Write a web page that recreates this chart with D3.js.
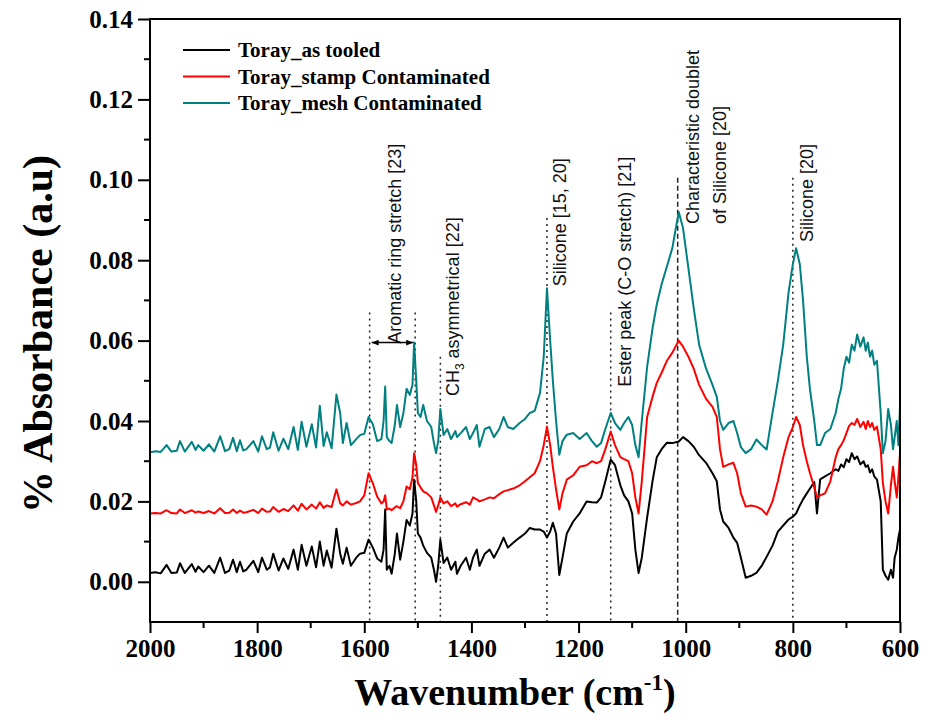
<!DOCTYPE html>
<html>
<head>
<meta charset="utf-8">
<script src="https://cdn.jsdelivr.net/npm/d3@7"></script>
<style>
  html, body { margin: 0; padding: 0; background: #fff; }
  svg { display: block; }
</style>
</head>
<body>
<svg id="chart" width="928" height="723"></svg>
<script>
// FTIR absorbance spectra of Toray samples (wavenumber in cm-1)
const wavenumbers = [
  2000, 1990, 1980, 1969, 1960, 1950, 1944, 1935, 1922, 1915, 1910, 1900, 1890, 1880, 1869, 1860,
  1852, 1845, 1838, 1832, 1826, 1820, 1807, 1798, 1791, 1782, 1776, 1770, 1760, 1751, 1742, 1732,
  1724, 1717, 1708, 1698, 1690, 1683, 1676, 1670, 1661, 1652, 1645, 1640, 1633, 1625, 1615, 1608,
  1600, 1592, 1584, 1576, 1568, 1564, 1561, 1558, 1553, 1549, 1543, 1539, 1533, 1527, 1521, 1515,
  1510, 1507, 1503, 1500, 1495, 1490, 1483, 1475, 1470, 1466, 1462, 1458, 1452, 1445, 1438, 1430,
  1427, 1420, 1410, 1403, 1397, 1390, 1385, 1375, 1366, 1358, 1348, 1340, 1332, 1322, 1310, 1300,
  1291, 1282, 1272, 1265, 1259, 1253, 1248, 1242, 1236, 1230, 1222, 1210, 1198, 1185, 1175, 1166,
  1158, 1150, 1140, 1132, 1122, 1115, 1107, 1100, 1094, 1088, 1082, 1072, 1062, 1054, 1045, 1035,
  1025, 1013, 1005, 995, 985, 975, 962, 950, 942, 936, 930, 920, 911, 904, 897, 888,
  878, 868, 858, 849, 838, 828, 818, 808, 800, 794, 787, 781, 774, 768, 760, 755,
  749, 740, 730, 720, 715, 710, 705, 700, 695, 690, 685, 680, 674, 668, 664, 660,
  656, 652, 648, 643, 636, 632, 627, 622, 617, 613, 610, 606, 603, 600
];

const asTooled = [
  0.0022, 0.0024, 0.0021, 0.0042, 0.0022, 0.0023, 0.0046, 0.0022, 0.0044, 0.0025, 0.0038, 0.0024, 0.0040, 0.0022, 0.0060, 0.0022,
  0.0028, 0.0055, 0.0024, 0.0050, 0.0026, 0.0030, 0.0052, 0.0024, 0.0060, 0.0030, 0.0036, 0.0070, 0.0028, 0.0058, 0.0032, 0.0080,
  0.0030, 0.0092, 0.0040, 0.0088, 0.0036, 0.0100, 0.0040, 0.0078, 0.0035, 0.0132, 0.0070, 0.0045, 0.0085, 0.0040, 0.0060, 0.0070,
  0.0072, 0.0105, 0.0085, 0.0058, 0.0050, 0.0080, 0.0180, 0.0030, 0.0040, 0.0020, 0.0070, 0.0120, 0.0055, 0.0100, 0.0154, 0.0140,
  0.0170, 0.0254, 0.0200, 0.0120, 0.0110, 0.0090, 0.0072, 0.0060, 0.0030, 0.0000, 0.0040, 0.0105, 0.0047, 0.0060, 0.0030, 0.0050,
  0.0020, 0.0040, 0.0060, 0.0030, 0.0060, 0.0080, 0.0040, 0.0070, 0.0080, 0.0060, 0.0085, 0.0110, 0.0085, 0.0097, 0.0110, 0.0120,
  0.0134, 0.0130, 0.0130, 0.0125, 0.0110, 0.0125, 0.0147, 0.0120, 0.0017, 0.0060, 0.0120, 0.0150, 0.0170, 0.0200, 0.0198, 0.0197,
  0.0210, 0.0250, 0.0304, 0.0290, 0.0240, 0.0215, 0.0200, 0.0170, 0.0080, 0.0022, 0.0060, 0.0160, 0.0250, 0.0310, 0.0330, 0.0346,
  0.0345, 0.0349, 0.0360, 0.0350, 0.0336, 0.0315, 0.0296, 0.0270, 0.0250, 0.0180, 0.0150, 0.0134, 0.0110, 0.0097, 0.0060, 0.0010,
  0.0015, 0.0022, 0.0040, 0.0062, 0.0090, 0.0125, 0.0140, 0.0155, 0.0162, 0.0170, 0.0190, 0.0205, 0.0220, 0.0232, 0.0248, 0.0170,
  0.0255, 0.0262, 0.0270, 0.0280, 0.0276, 0.0292, 0.0285, 0.0305, 0.0298, 0.0320, 0.0305, 0.0312, 0.0292, 0.0300, 0.0286, 0.0290,
  0.0272, 0.0280, 0.0262, 0.0254, 0.0200, 0.0030, 0.0015, 0.0005, 0.0030, 0.0010, 0.0060, 0.0080, 0.0110, 0.0130
];

const stampContaminated = [
  0.0170, 0.0171, 0.0170, 0.0178, 0.0171, 0.0170, 0.0180, 0.0171, 0.0178, 0.0172, 0.0175, 0.0171, 0.0176, 0.0170, 0.0183, 0.0171,
  0.0172, 0.0180, 0.0171, 0.0177, 0.0172, 0.0173, 0.0179, 0.0171, 0.0182, 0.0174, 0.0175, 0.0186, 0.0174, 0.0181, 0.0176, 0.0190,
  0.0177, 0.0194, 0.0180, 0.0192, 0.0182, 0.0198, 0.0184, 0.0190, 0.0186, 0.0230, 0.0195, 0.0190, 0.0200, 0.0192, 0.0196, 0.0200,
  0.0215, 0.0270, 0.0245, 0.0212, 0.0195, 0.0200, 0.0215, 0.0180, 0.0182, 0.0178, 0.0185, 0.0188, 0.0183, 0.0200, 0.0237, 0.0230,
  0.0260, 0.0320, 0.0290, 0.0246, 0.0235, 0.0225, 0.0220, 0.0210, 0.0190, 0.0174, 0.0190, 0.0210, 0.0195, 0.0200, 0.0188, 0.0195,
  0.0187, 0.0193, 0.0198, 0.0192, 0.0210, 0.0205, 0.0200, 0.0205, 0.0210, 0.0208, 0.0218, 0.0225, 0.0228, 0.0232, 0.0240, 0.0250,
  0.0260, 0.0270, 0.0300, 0.0340, 0.0386, 0.0340, 0.0286, 0.0230, 0.0180, 0.0220, 0.0254, 0.0265, 0.0286, 0.0290, 0.0300, 0.0295,
  0.0300, 0.0330, 0.0374, 0.0340, 0.0310, 0.0305, 0.0300, 0.0270, 0.0210, 0.0170, 0.0250, 0.0410, 0.0460, 0.0495, 0.0520, 0.0550,
  0.0570, 0.0600, 0.0585, 0.0560, 0.0530, 0.0490, 0.0455, 0.0435, 0.0410, 0.0330, 0.0286, 0.0292, 0.0296, 0.0270, 0.0220, 0.0187,
  0.0190, 0.0187, 0.0180, 0.0167, 0.0200, 0.0250, 0.0310, 0.0360, 0.0385, 0.0410, 0.0390, 0.0340, 0.0300, 0.0270, 0.0235, 0.0210,
  0.0215, 0.0220, 0.0250, 0.0310, 0.0330, 0.0340, 0.0352, 0.0370, 0.0388, 0.0395, 0.0390, 0.0405, 0.0385, 0.0398, 0.0380, 0.0400,
  0.0385, 0.0395, 0.0378, 0.0386, 0.0330, 0.0246, 0.0200, 0.0170, 0.0240, 0.0286, 0.0250, 0.0210, 0.0260, 0.0320
];

const meshContaminated = [
  0.0322, 0.0325, 0.0323, 0.0340, 0.0324, 0.0326, 0.0350, 0.0324, 0.0348, 0.0328, 0.0340, 0.0326, 0.0342, 0.0324, 0.0362, 0.0325,
  0.0330, 0.0358, 0.0325, 0.0352, 0.0327, 0.0330, 0.0350, 0.0324, 0.0362, 0.0330, 0.0334, 0.0372, 0.0326, 0.0356, 0.0330, 0.0385,
  0.0328, 0.0398, 0.0336, 0.0392, 0.0334, 0.0438, 0.0338, 0.0372, 0.0332, 0.0466, 0.0420, 0.0345, 0.0395, 0.0340, 0.0355, 0.0365,
  0.0368, 0.0410, 0.0392, 0.0350, 0.0355, 0.0400, 0.0486, 0.0360, 0.0350, 0.0345, 0.0390, 0.0440, 0.0385, 0.0420, 0.0480, 0.0465,
  0.0490, 0.0595, 0.0500, 0.0420, 0.0410, 0.0440, 0.0400, 0.0385, 0.0345, 0.0320, 0.0350, 0.0430, 0.0365, 0.0380, 0.0355, 0.0375,
  0.0360, 0.0370, 0.0385, 0.0355, 0.0370, 0.0390, 0.0336, 0.0380, 0.0385, 0.0360, 0.0380, 0.0410, 0.0385, 0.0380, 0.0395, 0.0405,
  0.0420, 0.0425, 0.0470, 0.0560, 0.0730, 0.0600, 0.0500, 0.0400, 0.0316, 0.0350, 0.0366, 0.0370, 0.0355, 0.0370, 0.0350, 0.0336,
  0.0345, 0.0380, 0.0420, 0.0395, 0.0378, 0.0395, 0.0410, 0.0390, 0.0340, 0.0310, 0.0400, 0.0535, 0.0630, 0.0690, 0.0740, 0.0785,
  0.0830, 0.0920, 0.0880, 0.0780, 0.0680, 0.0590, 0.0530, 0.0490, 0.0460, 0.0400, 0.0378, 0.0395, 0.0400, 0.0370, 0.0335, 0.0320,
  0.0330, 0.0354, 0.0340, 0.0329, 0.0420, 0.0500, 0.0590, 0.0720, 0.0790, 0.0830, 0.0790, 0.0700, 0.0560, 0.0478, 0.0400, 0.0340,
  0.0340, 0.0370, 0.0380, 0.0420, 0.0455, 0.0480, 0.0530, 0.0560, 0.0545, 0.0590, 0.0575, 0.0615, 0.0585, 0.0608, 0.0575, 0.0595,
  0.0560, 0.0575, 0.0540, 0.0550, 0.0420, 0.0320, 0.0350, 0.0430, 0.0390, 0.0330, 0.0360, 0.0400, 0.0340, 0.0436
];

const seriesNames = ["Toray_as tooled", "Toray_stamp Contaminated", "Toray_mesh Contaminated"];
const seriesColors = ["#000000", "#ff0000", "#008080"];

const xTicks = [2000, 1800, 1600, 1400, 1200, 1000, 800, 600];
const xMinorTicks = [1900, 1700, 1500, 1300, 1100, 900, 700];
const yTicks = [0.00, 0.02, 0.04, 0.06, 0.08, 0.10, 0.12, 0.14];
const yMinorTicks = [0.01, 0.03, 0.05, 0.07, 0.09, 0.11, 0.13];

// Band assignment guide lines: wavenumber and the absorbance where each line stops
const bandWavenumbers = [1590, 1505, 1458, 1259, 1140, 1015, 800];
const bandTops = [0.067, 0.067, 0.056, 0.0905, 0.067, 0.1005, 0.1005];

// Band labels, anchored at (wavenumber, absorbance) where the rotated text starts
const bandLabels = [
  { text: "Aromatic ring stretch [23]", wn: 1543, at: 0.0592 },
  { text: "CH|3| asymmetrical [22]", wn: 1434, at: 0.0462 },
  { text: "Silicone [15, 20]", wn: 1235, at: 0.0735 },
  { text: "Ester peak (C-O stretch) [21]", wn: 1113, at: 0.0485 },
  { text: "Characteristic doublet", wn: 986, at: 0.0890 },
  { text: "of Silicone [20]", wn: 936, at: 0.0890 },
  { text: "Silicone [20]", wn: 774, at: 0.0845 }
];
const aromaticSpan = [1590, 1505];
const aromaticArrowAt = 0.0595;

const svg = d3.select("#chart");
const margin = { left: 150, right: 28, top: 19, bottom: 101 };
const W = 928, H = 723;

const x = d3.scaleLinear().domain([2000, 600]).range([margin.left, W - margin.right]);
const y = d3.scaleLinear().domain([-0.01, 0.14]).range([H - margin.bottom, margin.top]);

const serif = "'Liberation Serif', 'Times New Roman', serif";
const sans = "'Liberation Sans', Arial, sans-serif";

// Guide lines for band assignments
svg.append("g").selectAll("line")
  .data(bandWavenumbers)
  .join("line")
  .attr("x1", d => x(d)).attr("x2", d => x(d))
  .attr("y1", (d, i) => y(bandTops[i]))
  .attr("y2", y(-0.01))
  .attr("stroke", "#222")
  .attr("stroke-width", 1.5)
  .attr("stroke-dasharray", d => d === 1015 ? "5,3" : "2,4");

// Spectra
const seriesValues = [asTooled, stampContaminated, meshContaminated];
const line = d3.line()
  .x((d, i) => x(wavenumbers[i]))
  .y(d => y(d));

svg.append("g").selectAll("path")
  .data(seriesValues)
  .join("path")
  .attr("d", d => line(d))
  .attr("fill", "none")
  .attr("stroke", (d, i) => seriesColors[i])
  .attr("stroke-width", 2)
  .attr("stroke-linejoin", "round");

// Axes
const xAxis = svg.append("g")
  .attr("transform", `translate(0,${y(-0.01)})`)
  .call(d3.axisBottom(x).tickValues(xTicks).tickSize(11).tickPadding(6).tickFormat(d3.format("d")));
xAxis.select(".domain").remove();
xAxis.selectAll(".tick line").attr("stroke-width", 2);
xAxis.selectAll(".tick text")
  .attr("font-family", serif).attr("font-weight", "bold").attr("font-size", 25).attr("fill", "#000");

svg.append("g")
  .attr("transform", `translate(0,${y(-0.01)})`)
  .selectAll("line").data(xMinorTicks).join("line")
  .attr("x1", d => x(d)).attr("x2", d => x(d))
  .attr("y1", 0).attr("y2", 6)
  .attr("stroke", "#000").attr("stroke-width", 2);

const yAxis = svg.append("g")
  .attr("transform", `translate(${x(2000)},0)`)
  .call(d3.axisLeft(y).tickValues(yTicks).tickSize(12).tickPadding(5).tickFormat(d3.format(".2f")));
yAxis.select(".domain").remove();
yAxis.selectAll(".tick line").attr("stroke-width", 2);
yAxis.selectAll(".tick text")
  .attr("font-family", serif).attr("font-weight", "bold").attr("font-size", 25).attr("fill", "#000");

svg.append("g")
  .attr("transform", `translate(${x(2000)},0)`)
  .selectAll("line").data(yMinorTicks).join("line")
  .attr("x1", -6).attr("x2", 0)
  .attr("y1", d => y(d)).attr("y2", d => y(d))
  .attr("stroke", "#000").attr("stroke-width", 2);

// Plot frame
svg.append("rect")
  .attr("x", x(2000)).attr("y", y(0.14))
  .attr("width", x(600) - x(2000)).attr("height", y(-0.01) - y(0.14))
  .attr("fill", "none").attr("stroke", "#000").attr("stroke-width", 2);

// Axis titles
const xTitle = svg.append("text")
  .attr("x", 515).attr("y", 705)
  .attr("text-anchor", "middle")
  .attr("font-family", serif).attr("font-weight", "bold").attr("font-size", 38);
xTitle.append("tspan").text("Wavenumber (cm");
xTitle.append("tspan").attr("font-size", 23).attr("dy", -15).text("-1");
xTitle.append("tspan").attr("dy", 15).text(")");

svg.append("text")
  .attr("transform", `translate(52,334) rotate(-90)`)
  .attr("text-anchor", "middle")
  .attr("font-family", serif).attr("font-weight", "bold").attr("font-size", 42)
  .text("% Absorbance (a.u)");

// Band labels (rotated)
bandLabels.forEach(lab => {
  const t = svg.append("text")
    .attr("transform", `translate(${x(lab.wn) + 6},${y(lab.at)}) rotate(-90)`)
    .attr("font-family", sans).attr("font-size", 18).attr("fill", "#111");
  const parts = lab.text.split("|");
  parts.forEach((p, i) => {
    if (i % 2 === 1) {
      t.append("tspan").attr("font-size", 12).attr("dy", 5).text(p);
    } else {
      const ts = t.append("tspan").text(p);
      if (i > 0) ts.attr("dy", -5);
    }
  });
});

// Double-headed arrow spanning the aromatic ring band
const defs = svg.append("defs");
["start", "end"].forEach(k => {
  defs.append("marker")
    .attr("id", "arrow-" + k)
    .attr("viewBox", "0 0 10 10")
    .attr("refX", k === "end" ? 10 : 0).attr("refY", 5)
    .attr("markerWidth", 7).attr("markerHeight", 7)
    .attr("markerUnits", "userSpaceOnUse")
    .attr("orient", "auto")
    .append("path")
    .attr("d", k === "end" ? "M0,1 L10,5 L0,9 Z" : "M10,1 L0,5 L10,9 Z")
    .attr("fill", "#000");
});
svg.append("line")
  .attr("x1", x(aromaticSpan[0]) + 2).attr("x2", x(aromaticSpan[1]) - 2)
  .attr("y1", y(aromaticArrowAt)).attr("y2", y(aromaticArrowAt))
  .attr("stroke", "#000").attr("stroke-width", 1.5)
  .attr("marker-start", "url(#arrow-start)")
  .attr("marker-end", "url(#arrow-end)");

// Legend
const legend = svg.append("g");
seriesNames.forEach((name, i) => {
  const ly = 50 + i * 26.5;
  legend.append("line")
    .attr("x1", 183).attr("x2", 230).attr("y1", ly).attr("y2", ly)
    .attr("stroke", seriesColors[i]).attr("stroke-width", 2);
  legend.append("text")
    .attr("x", 238).attr("y", ly).attr("dy", "0.35em")
    .attr("font-family", serif).attr("font-weight", "bold").attr("font-size", 21)
    .text(name);
});
</script>
</body>
</html>
